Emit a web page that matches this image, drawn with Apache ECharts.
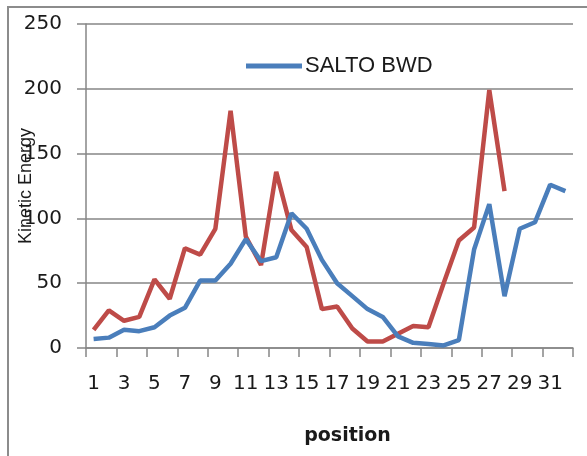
<!DOCTYPE html>
<html><head><meta charset="utf-8">
<script src="https://cdn.jsdelivr.net/npm/echarts@6/dist/echarts.min.js"></script>
<style>html,body{margin:0;padding:0;background:#fff}#c{width:587px;height:456px}</style>
</head><body><div id="c"></div>
<script>
var categories = ['1','2','3','4','5','6','7','8','9','10','11','12','13','14','15','16','17','18','19','20','21','22','23','24','25','26','27','28','29','30','31','32'];
var saltoBwd = [7,8,14,13,16,25,31,52,52,65,84,67,70,104,92,68,50,40,30,24,9,4,3,2,6,76,111,40,92,97,126,121];
var otherSeries = [14,29,21,24,53,38,77,72,92,183,86,64,136,91,78,30,32,15,5,5,11,17,16,50,83,93,199,121];
var yTicks = [0,50,100,150,200,250];

var chart = echarts.init(document.getElementById('c'));
chart.setOption({
  animation: false,
  graphic: [{type:'rect', shape:{x:8,y:7,width:600,height:470}, style:{fill:'none', stroke:'#8c8c8c', lineWidth:2}, z:-1}],
  grid: {left:86, right:14, top:24, bottom:108, containLabel:false, outerBoundsMode:'none'},
  legend: {
    data: ['SALTO BWD'], left: 246, top: 55, padding: 0, icon: 'rect', itemWidth: 56, itemHeight: 5, itemGap: 4,
    textStyle: {fontFamily:'Liberation Sans', fontSize:22, color:'#1a1a1a', padding:[0,0,0,-2]}
  },
  xAxis: {
    type:'category', data: categories, boundaryGap: true,
    axisLine:{lineStyle:{color:'#868686', width:1.5}},
    axisTick:{show:true, length:9, lineStyle:{color:'#868686', width:1.5}},
    axisLabel:{interval:1, fontFamily:'DejaVu Sans', fontSize:20, color:'#1a1a1a', margin:26},
    name:'position', nameLocation:'middle', nameGap:79, nameMoveOverlap:false,
    nameTextStyle:{fontFamily:'DejaVu Sans', fontWeight:'bold', fontSize:19, color:'#1a1a1a', padding:[0,0,0,36]}
  },
  yAxis: {
    type:'value', min: yTicks[0], max: yTicks[yTicks.length-1], interval: 50,
    axisLine:{show:true, lineStyle:{color:'#868686', width:1.5}},
    axisTick:{show:true, length:9, lineStyle:{color:'#868686', width:1.5}},
    splitLine:{lineStyle:{color:'#868686', width:1.5}},
    axisLabel:{fontFamily:'DejaVu Sans', fontSize:20, color:'#1a1a1a', margin:24},
    name:'Kinetic Energy', nameLocation:'middle', nameGap:51, nameRotate:90, nameMoveOverlap:false,
    nameTextStyle:{fontFamily:'Liberation Sans', fontSize:18, color:'#1a1a1a'}
  },
  series: [
    {name:'SALTO BWD', type:'line', data: saltoBwd, symbol:'none', color:'#4A7EBB', lineStyle:{width:4.5, color:'#4A7EBB'}, z:3},
    {name:'series2', type:'line', data: otherSeries, symbol:'none', color:'#BE4B48', lineStyle:{width:4.5, color:'#BE4B48'}, z:2}
  ]
});
</script></body></html>
